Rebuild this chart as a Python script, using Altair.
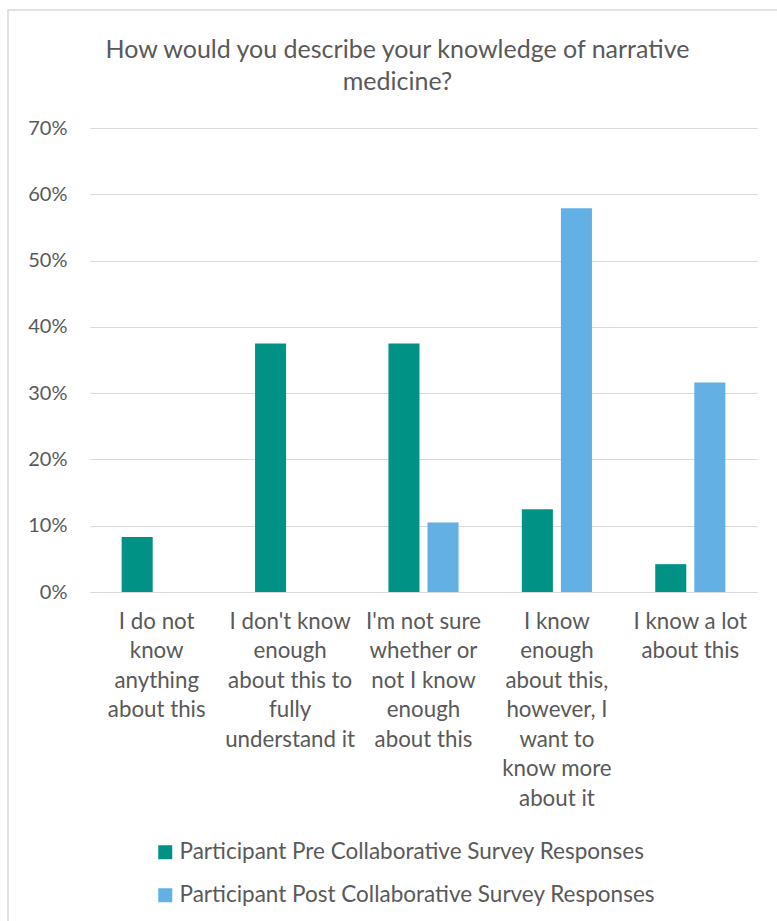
import altair as alt
import pandas as pd

categories = [
    "I do not|know|anything|about this",
    "I don't know|enough|about this to|fully|understand it",
    "I'm not sure|whether or|not I know|enough|about this",
    "I know|enough|about this,|however, I|want to|know more|about it",
    "I know a lot|about this",
]
series = ["Participant Pre Collaborative Survey Responses",
          "Participant Post Collaborative Survey Responses"]
pre_values = [0.083, 0.375, 0.375, 0.125, 0.042]
post_values = [0.0, 0.0, 0.105, 0.579, 0.316]
colors = ["#009385", "#63B0E5"]
title_lines = ["How would you describe your knowledge of narrative", "medicine?"]

rows = []
for c, v in zip(categories, pre_values):
    rows.append({"category": c, "series": series[0], "value": v})
for c, v in zip(categories, post_values):
    rows.append({"category": c, "series": series[1], "value": v})
df = pd.DataFrame(rows)

FONT = "Lato"
TXT = "#595959"

bars = alt.Chart(df).mark_bar().encode(
    x=alt.X("category:N", sort=categories,
            scale=alt.Scale(paddingInner=0, paddingOuter=0),
            axis=alt.Axis(title=None, labelAngle=0,
                          labelExpr="split(datum.label, '|')",
                          labelFontSize=22.3, labelColor=TXT, labelFont=FONT,
                          labelLineHeight=29.5, labelBaseline="top",
                          labelPadding=18, ticks=False, domain=True,
                          domainColor="#d9d9d9", labelLimit=200)),
    xOffset=alt.XOffset("series:N", sort=series,
                        scale=alt.Scale(paddingInner=0.205, paddingOuter=0.81)),
    y=alt.Y("value:Q",
            scale=alt.Scale(domain=[0, 0.7], nice=False),
            axis=alt.Axis(title=None, format=".0%", values=[0, .1, .2, .3, .4, .5, .6, .7],
                          labelFontSize=20, labelColor=TXT, labelFont=FONT,
                          labelPadding=23, ticks=False, domain=False,
                          gridColor="#d9d9d9", gridWidth=1)),
    color=alt.Color("series:N", sort=series,
                    scale=alt.Scale(domain=series, range=colors),
                    legend=alt.Legend(title=None, orient="none", legendX=64, legendY=713,
                                      direction="vertical", symbolType="square",
                                      symbolSize=196, symbolStrokeWidth=0,
                                      labelFontSize=22.5, labelColor=TXT, labelFont=FONT,
                                      rowPadding=20, labelOffset=3, labelLimit=700,
                                      padding=0)),
)

border = alt.Chart(pd.DataFrame({"a": [0]})).mark_rect(
    fill=None, stroke="#d9d9d9", strokeWidth=1.5
).encode(x=alt.value(-82), x2=alt.value(700), y=alt.value(-118), y2=alt.value(820))

title = alt.Chart(pd.DataFrame({"a": [0]})).mark_text(
    font=FONT, fontSize=25, color=TXT, lineHeight=32, align="center", baseline="middle"
).encode(x=alt.value(307.5), y=alt.value(-78), text=alt.value(title_lines))

chart = alt.layer(border, title, bars).properties(
    width=667, height=464,
    padding={"left": 90, "top": 128, "right": 20, "bottom": 329},
    autosize=alt.AutoSizeParams(type="none"),
    background="white",
).configure_view(stroke=None)

chart.save("out.html", embed_options={"renderer": "svg", "actions": False})
